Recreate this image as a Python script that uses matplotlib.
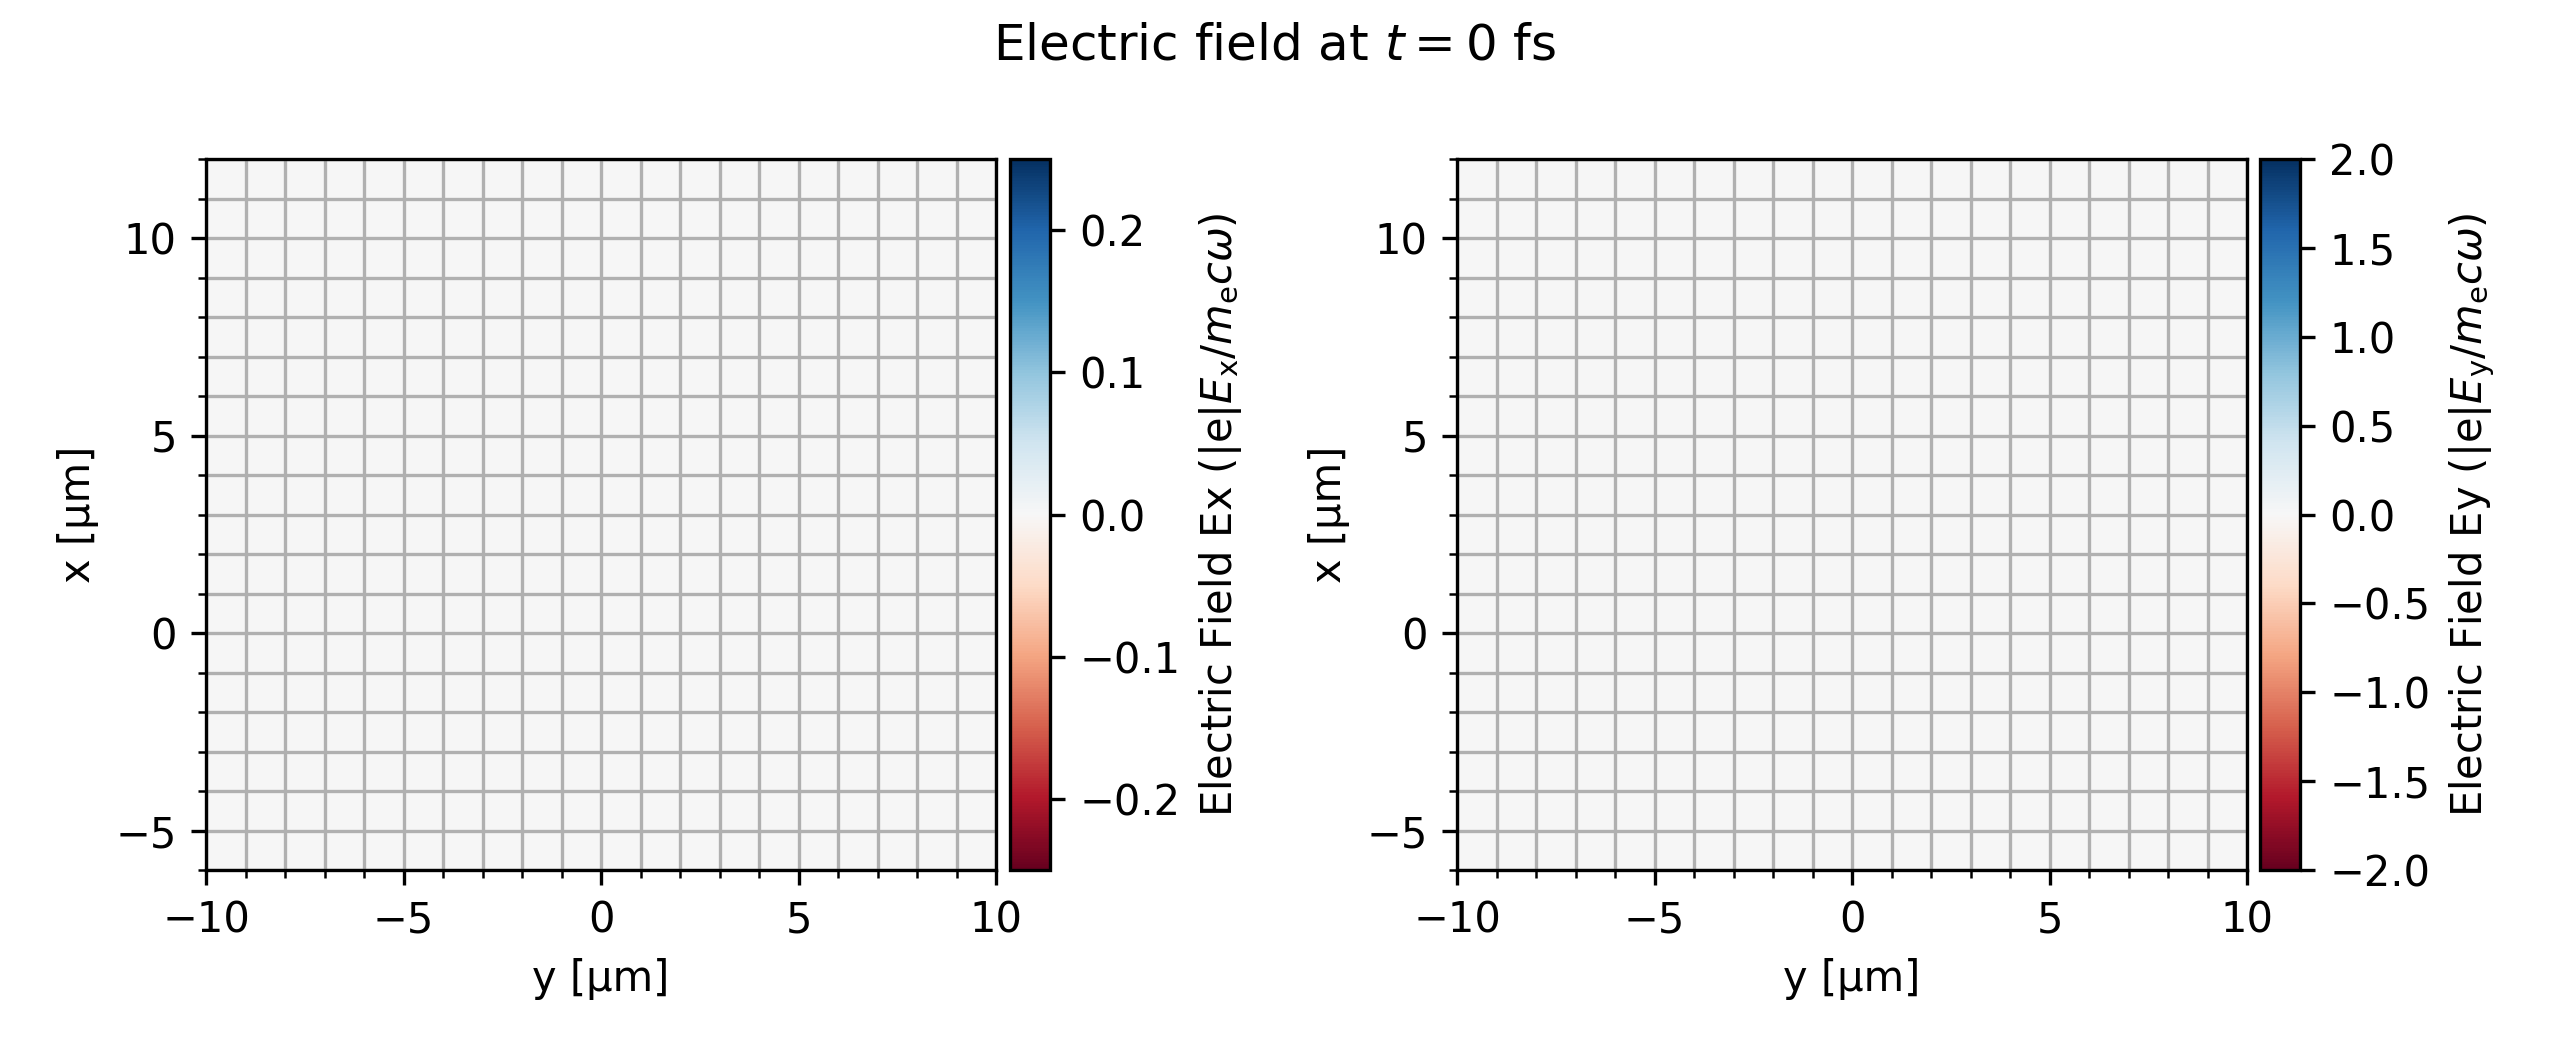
import matplotlib
matplotlib.use("Agg")
import matplotlib.pyplot as plt
import numpy as np
from matplotlib.ticker import MultipleLocator

# field values at t = 0 (all zero)
Ex = np.zeros((180, 200))
Ey = np.zeros((180, 200))
extent = [-10, 10, -6, 12]   # y min, y max, x min, x max (um)
Ex_lim = 0.25
Ey_lim = 2.0
Ex_ticks = [-0.2, -0.1, 0.0, 0.1, 0.2]
Ey_ticks = [-2.0, -1.5, -1.0, -0.5, 0.0, 0.5, 1.0, 1.5, 2.0]

fig = plt.figure(figsize=(8.5, 3.5), dpi=300)

W, H = 2550., 1050.
bottom = 1 - 870 / H
height = 711 / H

panels = [
    (206, 1010, Ex, Ex_lim, Ex_ticks, r'Electric Field Ex (|e|$E_\mathrm{x}/m_\mathrm{e}c\omega$)'),
    (1457, 2260, Ey, Ey_lim, Ey_ticks, r'Electric Field Ey (|e|$E_\mathrm{y}/m_\mathrm{e}c\omega$)'),
]

for left, cleft, field, lim, ticks, label in panels:
    ax = fig.add_axes([left / W, bottom, 790 / W, height])
    cax = fig.add_axes([cleft / W, bottom, 40 / W, height])
    im = ax.imshow(field, extent=extent, origin='lower', cmap='RdBu',
                   vmin=-lim, vmax=lim, aspect='equal')
    ax.xaxis.set_major_locator(MultipleLocator(5))
    ax.yaxis.set_major_locator(MultipleLocator(5))
    ax.xaxis.set_minor_locator(MultipleLocator(1))
    ax.yaxis.set_minor_locator(MultipleLocator(1))
    ax.grid(which='both')
    ax.set_xlabel('y [µm]')
    ax.set_ylabel('x [µm]')
    cb = fig.colorbar(im, cax=cax)
    cb.set_ticks(ticks)
    cb.set_label(label)

fig.suptitle('Electric field at $t = 0$ fs', fontsize=12, y=0.98)

fig.savefig('out.png', dpi=300)
